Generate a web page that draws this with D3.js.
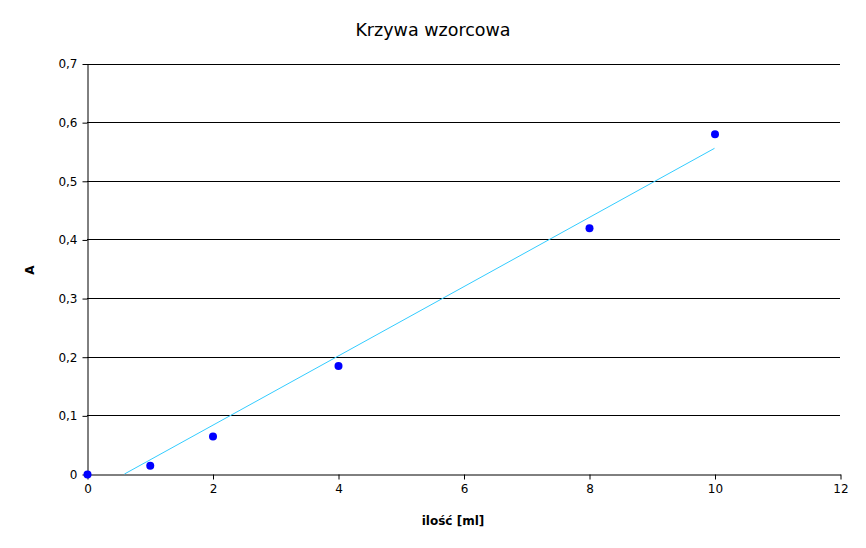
<!DOCTYPE html>
<html><head><meta charset="utf-8">
<script src="https://cdn.jsdelivr.net/npm/d3@7"></script>
<style>body{margin:0;background:#fff}svg{display:block}text{font-family:"DejaVu Sans",sans-serif}</style>
</head><body><svg id="c" width="866" height="548"></svg>
<script>
const xValues = [0, 1, 2, 4, 8, 10];
const yValues = [0, 0.015, 0.065, 0.185, 0.42, 0.58];
const xTicks = [0, 2, 4, 6, 8, 10, 12];
const yTicks = [0, 0.1, 0.2, 0.3, 0.4, 0.5, 0.6, 0.7];
const title = "Krzywa wzorcowa";
const xTitle = "ilość [ml]";
const yTitle = "A";

const svg = d3.select("#c");
const L = 87, R = 840, T = 63.5, B = 474;
const x = d3.scaleLinear().domain([0, 12]).range([L, R]);
const y = d3.scaleLinear().domain([0, 0.7]).range([B, T]);
const fmt = d => d3.format(".1f")(d).replace(".", ",");

// gridlines
svg.append("g").selectAll("line").data(yTicks.slice(1)).join("line")
  .attr("x1", L).attr("x2", R).attr("y1", d => Math.round(y(d)) + 0.5).attr("y2", d => Math.round(y(d)) + 0.5)
  .attr("stroke", "#000").attr("stroke-width", 1);

// y axis
const ya = svg.append("g").attr("transform", `translate(${L + 0.5},0.5)`)
  .call(d3.axisLeft(y).tickValues(yTicks).tickSize(5).tickSizeOuter(0).tickFormat(d => d === 0 ? "0" : fmt(d)));
ya.selectAll("text").attr("font-size", 12).attr("fill", "#000").attr("x", -10);
ya.selectAll("path,line").attr("stroke", "#000");

// x axis
const xa = svg.append("g").attr("transform", `translate(0.5,${B + 0.5})`)
  .call(d3.axisBottom(x).tickValues(xTicks).tickSize(5).tickSizeOuter(0).tickFormat(d => d));
xa.selectAll("text").attr("font-size", 12).attr("fill", "#000").attr("y", 10);
xa.selectAll("path,line").attr("stroke", "#000");

// linear regression trendline
const mx = d3.mean(xValues), my = d3.mean(yValues);
const sxy = d3.sum(xValues.map((v, i) => (v - mx) * (yValues[i] - my)));
const sxx = d3.sum(xValues.map(v => (v - mx) ** 2));
const slope = sxy / sxx, icpt = my - slope * mx;
const x0 = Math.max(0, -icpt / slope), x1 = d3.max(xValues);
svg.append("line")
  .attr("x1", x(x0)).attr("y1", y(slope * x0 + icpt))
  .attr("x2", x(x1)).attr("y2", y(slope * x1 + icpt))
  .attr("stroke", "#33ccff").attr("stroke-width", 1);

// points
svg.append("g").selectAll("circle").data(xValues).join("circle")
  .attr("cx", (d) => x(d) + 0.5).attr("cy", (d, i) => y(yValues[i]) + 0.5).attr("r", 4)
  .attr("fill", "#0000ff");

// titles
svg.append("text").attr("x", 433).attr("y", 36).attr("text-anchor", "middle")
  .attr("font-size", 17.5).attr("fill", "#000").text(title);
svg.append("text").attr("x", 453).attr("y", 525).attr("text-anchor", "middle")
  .attr("font-size", 12).attr("font-weight", "bold").attr("fill", "#000").text(xTitle);
svg.append("text").attr("transform", "translate(34,270) rotate(-90)").attr("text-anchor", "middle")
  .attr("font-size", 12).attr("font-weight", "bold").attr("fill", "#000").text(yTitle);
</script></body></html>
